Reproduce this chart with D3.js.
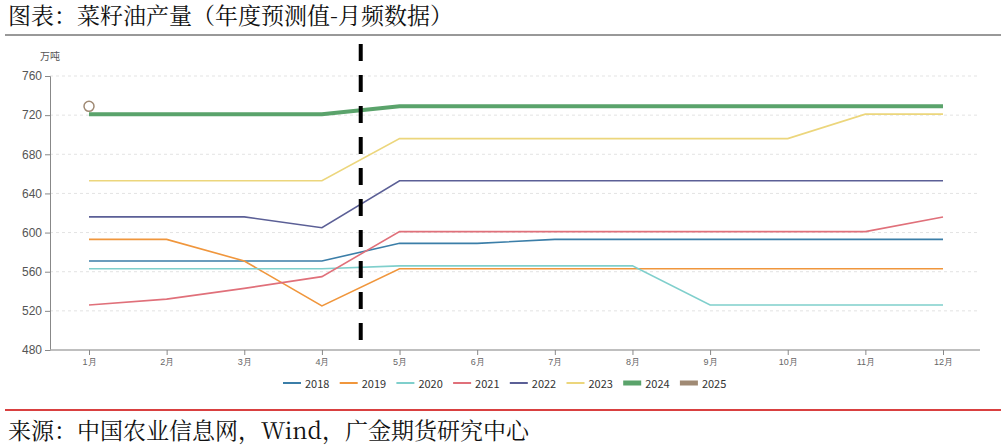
<!DOCTYPE html>
<html><head><meta charset="utf-8">
<script src="https://cdn.jsdelivr.net/npm/d3@7"></script>
<style>body{margin:0;background:#fff}</style>
</head><body><div id="chart"></div>
<script>
const months = ["1月","2月","3月","4月","5月","6月","7月","8月","9月","10月","11月","12月"];
const yTicks = [480,520,560,600,640,680,720,760];
const seriesNames = ["2018","2019","2020","2021","2022","2023","2024","2025"];
const seriesColors = ["#3b7ea8","#f0963c","#7fcfcc","#e0707a","#5b5f96","#ecd67c","#5aa36b","#a08a74"];
const v2018 = [571,571,571,571,589,589,593,593,593,593,593,593];
const v2019 = [593,593,571,525,563,563,563,563,563,563,563,563];
const v2020 = [563,563,563,563,566,566,566,566,526,526,526,526];
const v2021 = [526,532,543,555,601,601,601,601,601,601,601,616];
const v2022 = [616,616,616,605,653,653,653,653,653,653,653,653];
const v2023 = [653,653,653,653,696,696,696,696,696,696,721,721];
const v2024 = [721,721,721,721,729,729,729,729,729,729,729,729];
const v2025 = [729];
const allValues = [v2018,v2019,v2020,v2021,v2022,v2023,v2024,v2025];

const width = 1006, height = 448;
const svg = d3.select("#chart").append("svg").attr("width", width).attr("height", height);

svg.append("text").attr("x", 8).attr("y", 24)
    .attr("font-family", "'Noto Serif CJK SC','Noto Sans CJK SC',serif")
    .attr("font-size", 23).attr("fill", "#111").text("图表：菜籽油产量（年度预测值-月频数据）");
svg.append("line").attr("x1", 5).attr("x2", 1001).attr("y1", 35).attr("y2", 35).attr("stroke", "#333");
svg.append("line").attr("x1", 5).attr("x2", 1001).attr("y1", 410).attr("y2", 410).attr("stroke", "#c00").attr("stroke-width", 1.5);
svg.append("text").attr("x", 8).attr("y", 439)
    .attr("font-family", "'Noto Serif CJK SC','Noto Sans CJK SC',serif")
    .attr("font-size", 23).attr("fill", "#111").text("来源：中国农业信息网，Wind，广金期货研究中心");

const x = d3.scalePoint().domain(months).range([89, 943]);
const y = d3.scaleLinear().domain([480, 760]).range([350, 76]);

const g = svg.append("g").attr("font-family", "'Noto Sans CJK SC',sans-serif");

g.selectAll(".grid").data(yTicks.slice(1)).join("line")
    .attr("x1", 50).attr("x2", 980).attr("y1", d => y(d)).attr("y2", d => y(d))
    .attr("stroke", "#e3e3e3").attr("stroke-dasharray", "3,3");

const yAxis = g.append("g").attr("transform", "translate(50,0)")
    .call(d3.axisLeft(y).tickValues(yTicks).tickSize(5).tickPadding(3));
yAxis.selectAll("text").attr("font-size", 12).attr("fill", "#555");
yAxis.selectAll("line,path").attr("stroke", "#888");

const xAxis = g.append("g").attr("transform", "translate(0,350)")
    .call(d3.axisBottom(x).tickSize(5).tickPadding(4));
xAxis.select(".domain").attr("d", "M50,0H980").attr("stroke", "#aaa").attr("stroke-width", 1.5);
xAxis.selectAll("line").attr("stroke", "#888");
xAxis.selectAll("text").attr("font-size", 9).attr("fill", "#666");

g.append("text").attr("x", 40).attr("y", 60).attr("font-size", 10).attr("fill", "#555").text("万吨");

const line = d3.line().x((d, i) => x(months[i])).y(d => y(d));
allValues.forEach((vals, k) => {
    if (vals.length > 1) {
        g.append("path").attr("d", line(vals)).attr("fill", "none")
            .attr("stroke", seriesColors[k]).attr("stroke-width", k === 6 ? 4 : 1.6);
    } else {
        g.append("circle").attr("cx", x(months[0])).attr("cy", y(vals[0])).attr("r", 5)
            .attr("fill", "#fff").attr("stroke", seriesColors[k]).attr("stroke-width", 1.5);
    }
});

svg.append("line").attr("x1", x("4月") + (x("5月") - x("4月")) / 2).attr("x2", x("4月") + (x("5月") - x("4月")) / 2)
    .attr("y1", 44).attr("y2", 345).attr("stroke", "#000").attr("stroke-width", 4).attr("stroke-dasharray", "17,14");

const legend = g.append("g").attr("transform", "translate(283,383)");
seriesNames.forEach((n, i) => {
    const lg = legend.append("g").attr("transform", `translate(${i * 56.7},0)`);
    const thick = i >= 6;
    lg.append("rect").attr("x", 0).attr("y", thick ? -2.5 : -1).attr("width", 18).attr("height", thick ? 5 : 2)
        .attr("fill", seriesColors[i]);
    lg.append("text").attr("x", 22).attr("y", 4.5).attr("font-size", 11).attr("fill", "#333").text(n);
});
</script></body></html>
